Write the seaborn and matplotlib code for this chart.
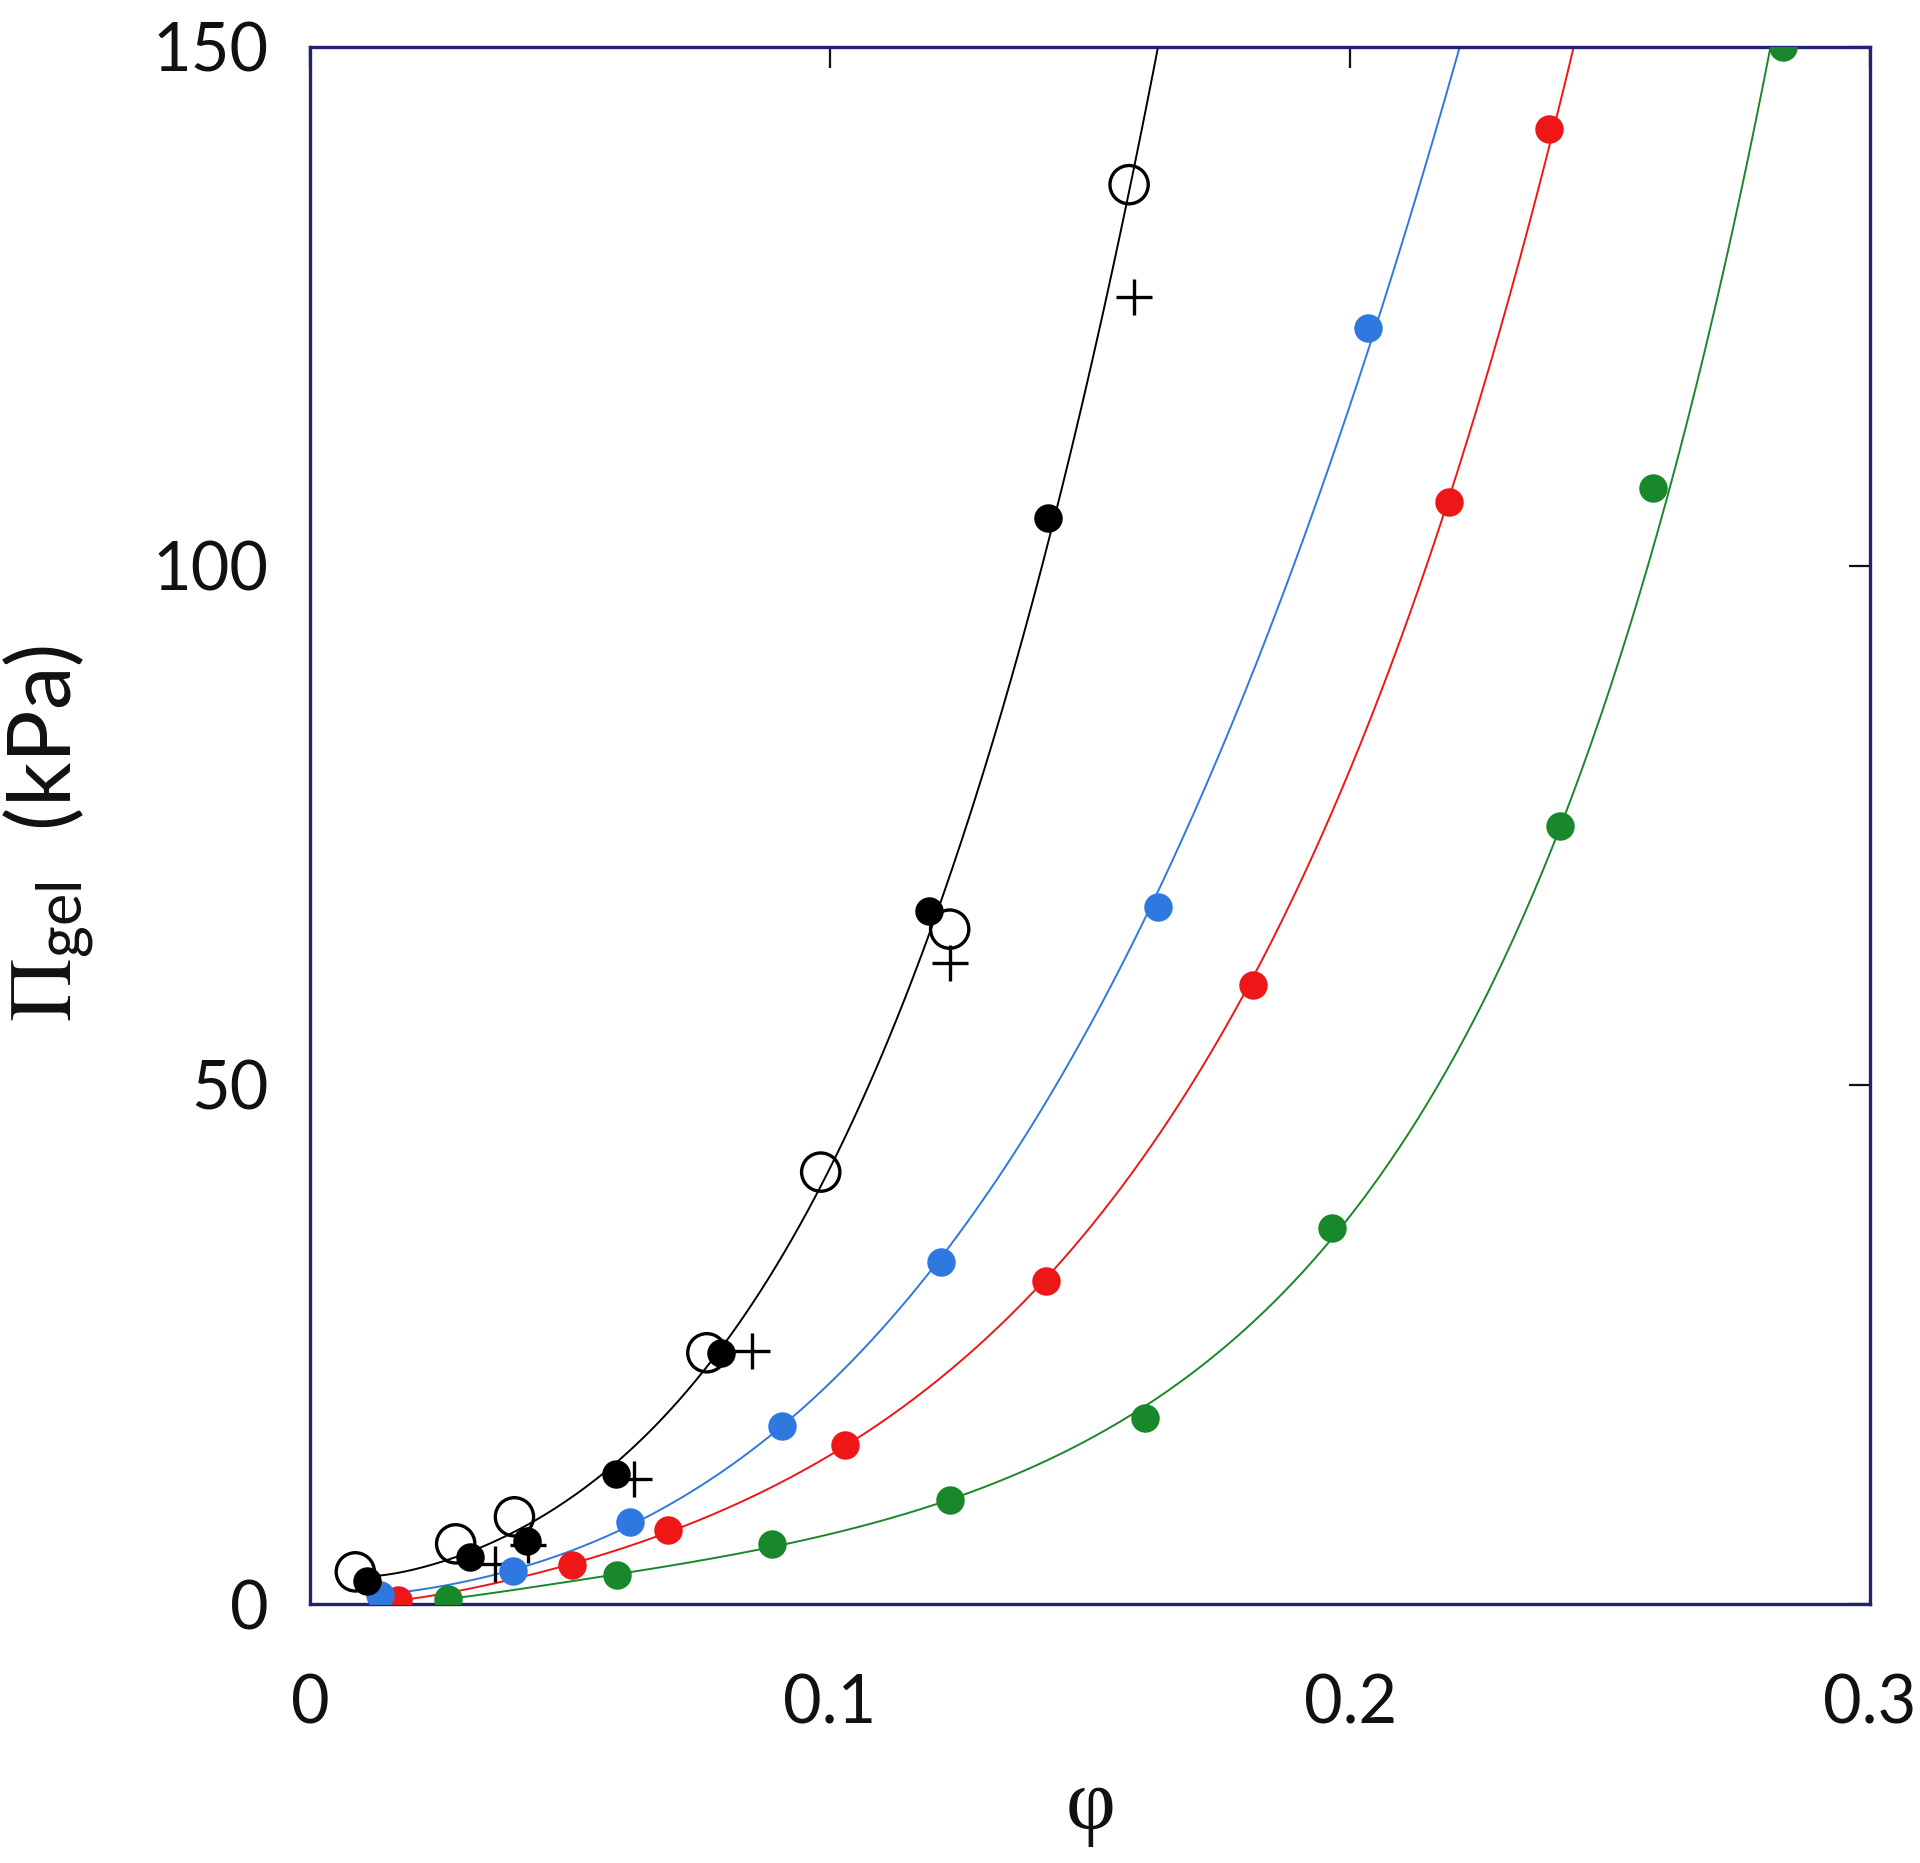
import numpy as np
import pandas as pd
import matplotlib
matplotlib.use("Agg")
import matplotlib.pyplot as plt
import seaborn as sns

# data (phi, Pi_gel in kPa)
black_phi = [0.011, 0.0308, 0.0417, 0.0589, 0.0791, 0.119, 0.142]
black_pi = [2.2, 4.5, 6.1, 12.5, 24.2, 66.7, 104.6]

open_phi = [0.0087, 0.028, 0.0393, 0.0763, 0.0982, 0.123, 0.1575]
open_pi = [3.1, 5.8, 8.4, 24.2, 41.6, 65.0, 136.7]

plus_phi = [0.0356, 0.042, 0.0622, 0.085, 0.123, 0.1585]
plus_pi = [3.9, 5.7, 12.0, 24.4, 61.7, 125.9]

blue_phi = [0.0134, 0.039, 0.0615, 0.0907, 0.1213, 0.163, 0.2034]
blue_pi = [0.9, 3.2, 7.9, 17.1, 32.9, 67.1, 122.9]

red_phi = [0.017, 0.0504, 0.0688, 0.1029, 0.1415, 0.1813, 0.219, 0.2383]
red_pi = [0.35, 3.8, 7.1, 15.3, 31.1, 59.6, 106.1, 142.1]

green_phi = [0.0266, 0.0591, 0.0888, 0.1231, 0.1606, 0.1966, 0.2404, 0.2583, 0.2833]
green_pi = [0.5, 2.8, 5.8, 10.0, 17.9, 36.2, 74.9, 107.5, 150.0]

x_ticks = [0, 0.1, 0.2, 0.3]
x_labels = ["0", "0.1", "0.2", "0.3"]
y_ticks = [0, 50, 100, 150]
y_labels = ["0", "50", "100", "150"]

c_black = "#000000"
c_blue = "#2f78e0"
c_red = "#ee1616"
c_green = "#18882a"
c_frame = "#22226e"

sns.set_style("white")
plt.rcParams["font.family"] = ["Lato", "DejaVu Sans"]
plt.rcParams["mathtext.fontset"] = "stix"

fig = plt.figure(figsize=(19.2, 18.63), dpi=100)
ax = fig.add_axes([0.1615, 0.139, 0.8125, 0.836])


def fit_curve(phi, pi, start, deg=3):
    # least squares fit in log-log space, like the fitted lines of the original
    coef = np.polyfit(np.log(phi), np.log(pi), deg)
    xs = np.linspace(start, 0.3, 600)
    ys = np.exp(np.polyval(coef, np.log(xs)))
    over = np.where(ys > 150)[0]
    if len(over):
        xs = xs[:over[0] + 1]
        ys = ys[:over[0] + 1]
    return pd.DataFrame({"phi": xs, "pi": ys})


# fitted lines
line_sets = [
    (black_phi + open_phi, black_pi + open_pi, black_phi[0], c_black),
    (blue_phi, blue_pi, blue_phi[0] - 0.002, c_blue),
    (red_phi, red_pi, red_phi[0] - 0.002, c_red),
    (green_phi, green_pi, green_phi[0] - 0.002, c_green),
]
for phi, pi, start, col in line_sets:
    df = fit_curve(phi, pi, start)
    sns.lineplot(data=df, x="phi", y="pi", color=col, linewidth=1.4,
                 ax=ax, sort=False, zorder=2)

# open circles and plus markers
sns.scatterplot(x=open_phi, y=open_pi, marker="o", s=760, facecolors="none",
                edgecolor="black", linewidth=2.4, ax=ax, zorder=3)
sns.scatterplot(x=plus_phi, y=plus_pi, marker="+", s=700, color="black",
                linewidth=2.4, ax=ax, zorder=3)

# filled circles
for phi, pi, col in [(green_phi, green_pi, c_green), (red_phi, red_pi, c_red),
                     (blue_phi, blue_pi, c_blue), (black_phi, black_pi, c_black)]:
    sns.scatterplot(x=phi, y=pi, marker="o", s=420, color=col,
                    edgecolor=col, linewidth=0, ax=ax, zorder=4)

ax.set_xlim(0, 0.3)
ax.set_ylim(0, 150)
ax.set_xticks(x_ticks)
ax.set_xticklabels(x_labels)
ax.set_yticks(y_ticks)
ax.set_yticklabels(y_labels)
ax.tick_params(direction="in", length=15, width=1.6, color="#111111",
               labelsize=48, top=True, right=True, labelcolor="#111111")
ax.tick_params(axis="x", pad=50)
ax.tick_params(axis="y", pad=30)
for sp in ax.spines.values():
    sp.set_color(c_frame)
    sp.set_linewidth(2.4)

ax.set_xlabel("φ", fontsize=62, color="#111111", family="Liberation Serif")
ax.xaxis.set_label_coords(0.5, -0.105)
ax.set_ylabel(r"$\Pi_{\mathregular{gel}}$  (kPa)", fontsize=63, color="#111111")
ax.yaxis.set_label_coords(-0.137, 0.495)

plt.savefig("out.png", dpi=100)
plt.close()
